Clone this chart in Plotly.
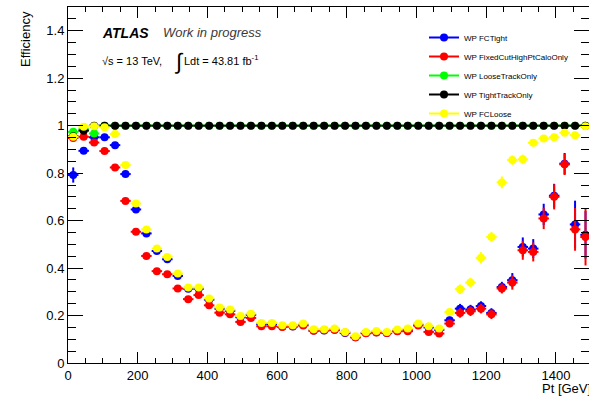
import plotly.graph_objects as go

# ---- data -------------------------------------------------------------
pt = [15 + 30 * i for i in range(50)]
bin_half_width = [15] * 50

eff_fctight = [0.792, 0.894, 0.951, 0.951, 0.918, 0.796, 0.647, 0.546, 0.472, 0.437,
               0.367, 0.313, 0.313, 0.267, 0.229, 0.220, 0.193, 0.203, 0.164, 0.164,
               0.154, 0.154, 0.161, 0.137, 0.137, 0.140, 0.126, 0.109, 0.126, 0.130,
               0.126, 0.136, 0.140, 0.161, 0.150, 0.140, 0.180, 0.229, 0.225, 0.240,
               0.211, 0.320, 0.349, 0.489, 0.482, 0.626, 0.705, 0.840, 0.584, 0.540]
err_fctight = [0.032, 0.010, 0.006, 0.005, 0.006, 0.008, 0.008, 0.008, 0.008, 0.008,
               0.006, 0.006, 0.006, 0.006, 0.006, 0.006, 0.006, 0.006, 0.006, 0.006,
               0.006, 0.006, 0.006, 0.006, 0.006, 0.006, 0.006, 0.006, 0.006, 0.006,
               0.006, 0.006, 0.006, 0.006, 0.006, 0.008, 0.015, 0.020, 0.020, 0.020,
               0.020, 0.022, 0.030, 0.040, 0.040, 0.045, 0.050, 0.045, 0.100, 0.100]

eff_fixedcut = [0.948, 0.953, 0.929, 0.893, 0.824, 0.683, 0.553, 0.451, 0.387, 0.374,
                0.314, 0.269, 0.286, 0.243, 0.212, 0.205, 0.173, 0.190, 0.155, 0.155,
                0.152, 0.155, 0.158, 0.136, 0.138, 0.140, 0.128, 0.108, 0.125, 0.128,
                0.126, 0.134, 0.134, 0.158, 0.131, 0.124, 0.166, 0.211, 0.218, 0.229,
                0.205, 0.314, 0.339, 0.475, 0.468, 0.609, 0.700, 0.837, 0.563, 0.531]
err_fixedcut = [0.008, 0.006, 0.006, 0.006, 0.006, 0.008, 0.008, 0.008, 0.008, 0.008,
                0.006, 0.006, 0.006, 0.006, 0.006, 0.006, 0.006, 0.006, 0.006, 0.006,
                0.006, 0.006, 0.006, 0.006, 0.006, 0.006, 0.006, 0.006, 0.006, 0.006,
                0.006, 0.006, 0.006, 0.006, 0.006, 0.008, 0.015, 0.020, 0.020, 0.020,
                0.020, 0.021, 0.030, 0.040, 0.040, 0.045, 0.053, 0.045, 0.090, 0.120]

eff_loosetrack = [0.974, 0.985, 0.967] + [1.0] * 47
err_loosetrack = [0.004] * 50

eff_tighttrack = [0.955, 0.979, 1.0] + [1.0] * 47
err_tighttrack = [0.004] * 50

eff_fcloose = [0.953, 0.995, 0.998, 0.993, 0.965, 0.834, 0.672, 0.563, 0.482, 0.447,
               0.377, 0.318, 0.318, 0.272, 0.234, 0.225, 0.198, 0.208, 0.169, 0.169,
               0.159, 0.159, 0.166, 0.142, 0.142, 0.145, 0.131, 0.113, 0.131, 0.135,
               0.131, 0.141, 0.145, 0.166, 0.155, 0.145, 0.215, 0.311, 0.339, 0.443,
               0.531, 0.761, 0.855, 0.858, 0.928, 0.946, 0.951, 0.970, 0.960, 0.998]
err_fcloose = [0.005, 0.004, 0.004, 0.004, 0.005, 0.007, 0.008, 0.008, 0.008, 0.008,
               0.006, 0.006, 0.006, 0.006, 0.006, 0.006, 0.006, 0.006, 0.006, 0.006,
               0.006, 0.006, 0.006, 0.006, 0.006, 0.006, 0.006, 0.006, 0.006, 0.006,
               0.006, 0.006, 0.006, 0.006, 0.006, 0.008, 0.012, 0.020, 0.020, 0.024,
               0.021, 0.025, 0.020, 0.020, 0.015, 0.012, 0.015, 0.010, 0.015, 0.010]

series_names = ["WP FCTight", "WP FixedCutHighPtCaloOnly", "WP LooseTrackOnly",
                "WP TightTrackOnly", "WP FCLoose"]
series_colors = ["#0000ff", "#ff0000", "#00ff00", "#000000", "#ffff00"]
series_values = [eff_fctight, eff_fixedcut, eff_loosetrack, eff_tighttrack, eff_fcloose]
series_errors = [err_fctight, err_fixedcut, err_loosetrack, err_tighttrack, err_fcloose]

x_ticks = [0, 200, 400, 600, 800, 1000, 1200, 1400]
y_ticks = [0, 0.2, 0.4, 0.6, 0.8, 1, 1.2, 1.4]

# ---- geometry (pixels) ---------------------------------------------------
W, H = 589, 396
L, R, T, B = 68, 0, 7, 33
PW, PH = W - L - R, H - T - B


def px(x):
    return (x - L) / PW


def py(y):
    return (H - B - y) / PH


FONT = "Liberation Sans, Arial, Helvetica, sans-serif"

fig = go.Figure()

for name, col, vals, errs in zip(series_names, series_colors, series_values, series_errors):
    fig.add_trace(go.Scatter(
        x=pt, y=vals, mode="markers", name=name, showlegend=False,
        marker=dict(symbol="circle", size=8, color=col, line=dict(width=0)),
        error_y=dict(type="data", array=errs, color=col, thickness=2, width=0),
        error_x=dict(type="data", array=bin_half_width, color=col, thickness=2, width=0),
        cliponaxis=True,
    ))

# legend entries (line + marker samples)
for name, col in zip(series_names, series_colors):
    fig.add_trace(go.Scatter(
        x=[None], y=[None], mode="lines+markers", name=name,
        line=dict(color=col, width=2),
        marker=dict(symbol="circle", size=8, color=col),
    ))

axis_common = dict(
    showline=True, linecolor="black", linewidth=1, mirror="ticks",
    ticks="inside", tickcolor="black", tickwidth=1,
    showgrid=False, zeroline=False,
    tickfont=dict(family=FONT, size=13, color="black"),
)

fig.update_xaxes(range=[0, 1495], tickvals=x_ticks, ticklen=11,
                 minor=dict(dtick=50, ticklen=5, ticks="inside", tickcolor="black", showgrid=False),
                 **axis_common)
fig.update_yaxes(range=[0, 1.5], tickvals=y_ticks, ticklen=15,
                 minor=dict(dtick=0.05, ticklen=8, ticks="inside", tickcolor="black", showgrid=False),
                 **axis_common)

ann = []
ann.append(dict(text="<b><i>ATLAS</i></b>", x=px(100), y=py(32.5), xanchor="left", yanchor="middle",
                font=dict(family=FONT, size=14, color="black")))
ann.append(dict(text="<i>Work in progress</i>", x=px(161), y=py(33), xanchor="left", yanchor="middle",
                font=dict(family=FONT, size=13, color="#3a3a3a")))
ann.append(dict(text="√s = 13 TeV,", x=px(100), y=py(61.5), xanchor="left", yanchor="middle",
                font=dict(family=FONT, size=11, color="black")))
ann.append(dict(text="∫", x=px(172), y=py(61), xanchor="left", yanchor="middle",
                font=dict(family=FONT, size=22, color="black")))
ann.append(dict(text="Ldt = 43.81 fb<sup>-1</sup>", x=px(182), y=py(60), xanchor="left", yanchor="middle",
                font=dict(family=FONT, size=11, color="black")))
ann.append(dict(text="Efficiency", textangle=-90, x=px(25), y=py(9), xanchor="center", yanchor="top",
                font=dict(family=FONT, size=13, color="black")))
ann.append(dict(text="Pt [GeV]", x=px(540), y=py(388), xanchor="left", yanchor="middle",
                font=dict(family=FONT, size=13, color="black")))
for a in ann:
    a.update(xref="paper", yref="paper", showarrow=False)

fig.update_layout(
    width=W, height=H,
    margin=dict(l=L, r=R, t=T, b=B, pad=0),
    paper_bgcolor="white", plot_bgcolor="white",
    font=dict(family=FONT, color="black"),
    annotations=ann,
    showlegend=True,
    legend=dict(x=px(424), y=py(23), xanchor="left", yanchor="top",
                bgcolor="rgba(0,0,0,0)", borderwidth=0,
                font=dict(family=FONT, size=8, color="black"),
                itemwidth=30, tracegroupgap=0),
)

fig.write_html("out.html")
